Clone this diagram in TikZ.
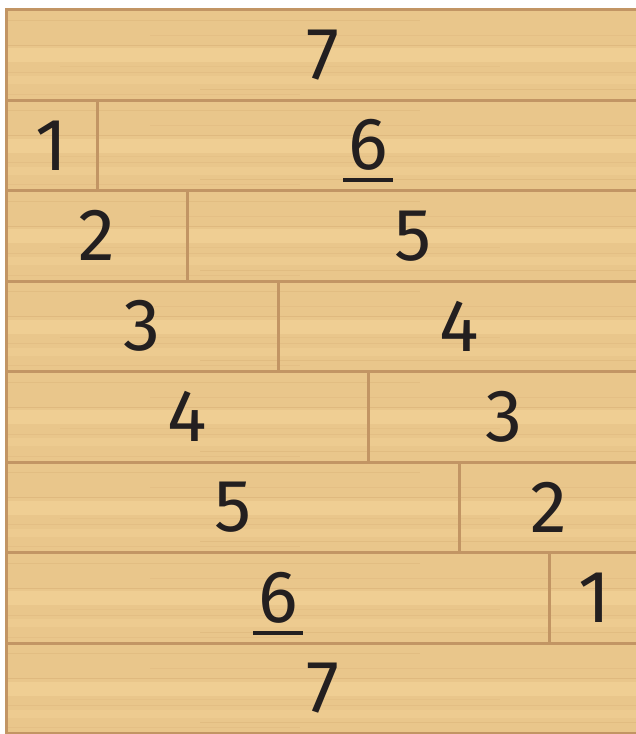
\documentclass[tikz,border=0pt]{standalone}
\usepackage{fontspec}
\setsansfont{Fira Sans}
\usetikzlibrary{positioning, calc}

\definecolor{wood}{RGB}{233,198,139}
\definecolor{woodlight}{RGB}{239,206,147}
\definecolor{grain}{RGB}{214,174,116}
\definecolor{joint}{RGB}{194,149,100}
\definecolor{ink}{RGB}{35,31,32}

\begin{document}
\begin{tikzpicture}[
    x=1pt, y=-1pt,
    plank/.style={draw=joint, line width=3pt, minimum height=90.5pt, inner sep=0pt, anchor=north west},
    num/.style={font=\sffamily\fontsize{74}{74}\selectfont, text=ink, inner sep=0pt},
    uline/.style={draw=ink, line width=4pt},
    grainline/.style={draw=grain, line width=1pt},
    band/.style={fill=woodlight}
  ]
  \useasboundingbox (0,0) rectangle (636,734);
  \clip (0,0) rectangle (636,734);

  % wood surface
  \fill[wood] (5,8) rectangle (638,732);
  \foreach \r in {0,...,7} {
    \pgfmathsetmacro\t{8+90.5*\r}
    \fill[band] (5,\t+40) rectangle (638,\t+54);
    \fill[band, opacity=0.7] (5,\t+68) rectangle (638,\t+76);
    \foreach \o/\a/\s/\e in {12/0.35/5/420, 27/0.25/150/638, 37/0.5/5/638, 58/0.2/60/500, 64/0.3/5/638, 81/0.4/200/638, 86/0.25/5/300}
      \draw[grainline, opacity=\a] (\s,\t+\o) -- (\e,\t+\o);
  }

  % planks
  \node[plank, minimum width=633pt] (p0) at (5,8) {};
  \node[plank, minimum width=633pt] (p7) at (5,641.5) {};
  \foreach \r in {1,...,6} {
    \pgfmathsetmacro\w{90.5*\r}
    \pgfmathsetmacro\wr{633-\w}
    \node[plank, minimum width=\w pt] (l\r) at (5,8+90.5*\r) {};
    \node[plank, minimum width=\wr pt] (r\r) at (5+\w,8+90.5*\r) {};
  }

  % numbers
  \node[num] (n0) at (p0) {7};
  \node[num] (n7) at (p7) {7};
  \foreach \r in {1,...,6} {
    \pgfmathtruncatemacro\k{7-\r}
    \node[num] (nl\r) at (l\r) {\r};
    \node[num] (nr\r) at (r\r) {\k};
  }
  \draw[uline] ([xshift=-5pt,yshift=-9pt]nr1.south west) -- ([xshift=5pt,yshift=-9pt]nr1.south east);
  \draw[uline] ([xshift=-5pt,yshift=-9pt]nl6.south west) -- ([xshift=5pt,yshift=-9pt]nl6.south east);
\end{tikzpicture}
\end{document}
